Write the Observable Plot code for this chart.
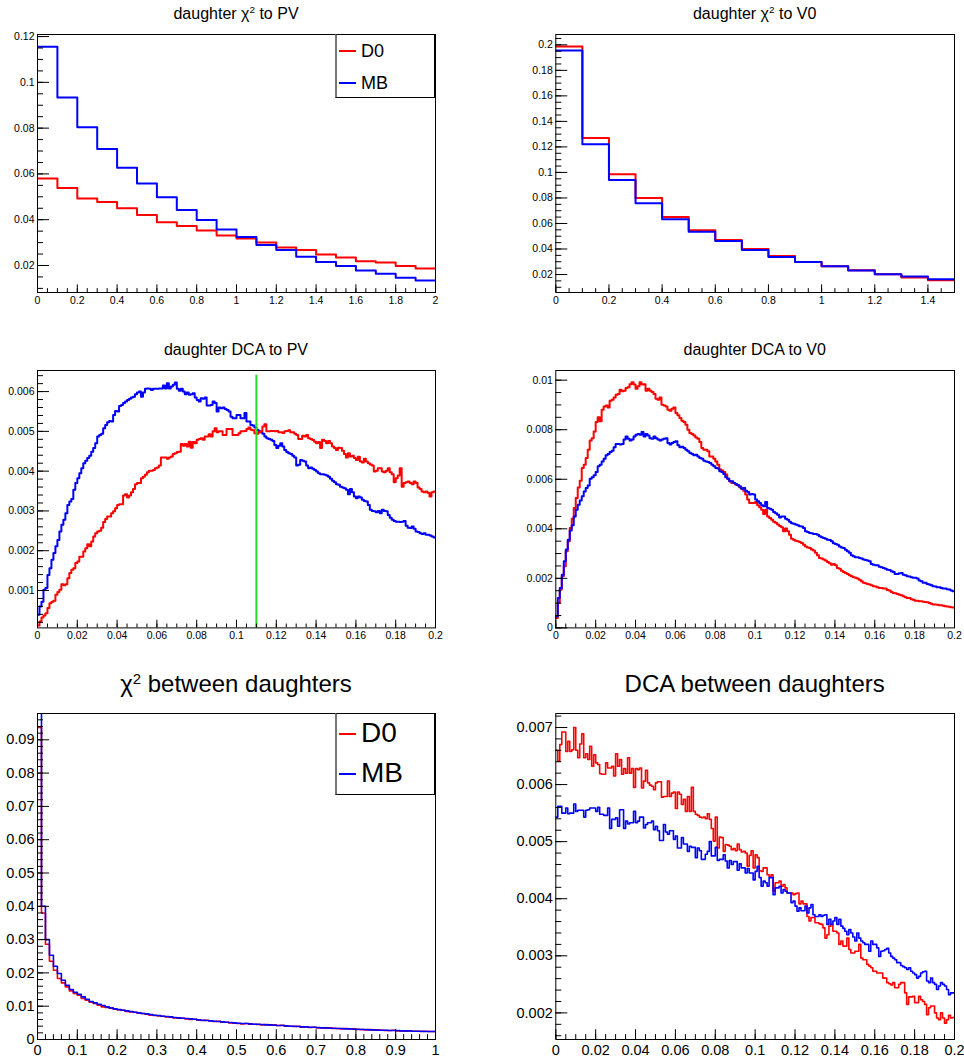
<!DOCTYPE html>
<html><head><meta charset="utf-8">
<script src="https://cdn.jsdelivr.net/npm/d3@7"></script>
<script src="https://cdn.jsdelivr.net/npm/@observablehq/plot@0.6"></script>
<style>
body{margin:0;background:#fff;}
#root{position:relative;width:964px;height:1061px;background:#fff;font-family:"Liberation Sans",Arial,Helvetica,sans-serif;color:#000;overflow:hidden}
.ttl{position:absolute;white-space:nowrap;line-height:1.117;transform:translateX(-50%)}
.ttl sup,.sup{font-size:0.62em;vertical-align:0;position:relative;top:-0.55em}
.leg{position:absolute;background:#fff;border:1px solid #000;border-left:2px solid #777;box-sizing:border-box}
.legtxt{position:absolute;white-space:nowrap;line-height:1.117}
.legline{position:absolute}
</style></head><body><div id="root"></div><script>
// ---------------- data ----------------
const series = ["D0", "MB"];
const colors = {D0: "#ff0000", MB: "#0000ff"};

// daughter chi2 to PV : 20 bins on [0,2]
const chi2PV_range = [0, 2];
const chi2PV_D0 = [0.0580,0.0539,0.0493,0.0477,0.0450,0.0420,0.0389,0.0373,0.0353,0.0331,0.0318,0.0300,0.0279,0.0268,0.0248,0.0235,0.0219,0.0213,0.0198,0.0187];
const chi2PV_MB = [0.1156,0.0934,0.0804,0.0709,0.0627,0.0558,0.0498,0.0442,0.0399,0.0357,0.0324,0.0290,0.0268,0.0238,0.0215,0.0198,0.0178,0.0164,0.0146,0.0134];

// daughter chi2 to V0 : 15 bins on [0,1.5]
const chi2V0_range = [0, 1.5];
const chi2V0_D0 = [0.1987,0.1269,0.0985,0.0800,0.0651,0.0547,0.0471,0.0400,0.0346,0.0299,0.0265,0.0234,0.0203,0.0176,0.0155];
const chi2V0_MB = [0.1956,0.1220,0.0941,0.0758,0.0633,0.0536,0.0463,0.0393,0.0338,0.0299,0.0265,0.0231,0.0203,0.0184,0.0163];

// daughter DCA to PV : 200 bins on [0,0.2]
const dcaPV_range = [0, 0.2];
const dcaPV_cut = 0.11, dcaPV_cutTop = 0.00641;
const dcaPV_D0 = [
0.00012,0.00022,0.00032,0.00037,0.00043,0.00056,0.00068,0.00072,0.00074,0.00089,
0.00096,0.00102,0.00116,0.00113,0.00116,0.00131,0.00144,0.00152,0.00156,0.00169,
0.00173,0.00185,0.00185,0.00198,0.00206,0.00216,0.00211,0.00223,0.00236,0.00244,
0.00248,0.00250,0.00258,0.00272,0.00280,0.00286,0.00286,0.00294,0.00299,0.00307,
0.00315,0.00317,0.00317,0.00339,0.00342,0.00334,0.00339,0.00347,0.00355,0.00367,
0.00370,0.00370,0.00382,0.00386,0.00391,0.00397,0.00401,0.00401,0.00403,0.00407,
0.00409,0.00414,0.00434,0.00434,0.00434,0.00431,0.00434,0.00437,0.00443,0.00445,
0.00448,0.00449,0.00468,0.00464,0.00468,0.00462,0.00474,0.00459,0.00473,0.00470,
0.00479,0.00481,0.00483,0.00479,0.00487,0.00487,0.00493,0.00487,0.00500,0.00508,
0.00498,0.00500,0.00500,0.00491,0.00491,0.00506,0.00506,0.00506,0.00491,0.00491,
0.00491,0.00495,0.00500,0.00500,0.00501,0.00506,0.00510,0.00504,0.00503,0.00495,
0.00494,0.00498,0.00500,0.00512,0.00518,0.00500,0.00500,0.00501,0.00501,0.00500,
0.00501,0.00498,0.00498,0.00496,0.00500,0.00501,0.00503,0.00498,0.00498,0.00494,
0.00491,0.00481,0.00481,0.00489,0.00487,0.00491,0.00483,0.00481,0.00478,0.00474,
0.00470,0.00473,0.00458,0.00479,0.00476,0.00470,0.00476,0.00470,0.00462,0.00458,
0.00453,0.00459,0.00458,0.00451,0.00443,0.00434,0.00445,0.00437,0.00439,0.00433,
0.00428,0.00436,0.00424,0.00422,0.00431,0.00424,0.00420,0.00417,0.00414,0.00399,
0.00401,0.00407,0.00407,0.00399,0.00397,0.00401,0.00407,0.00397,0.00392,0.00372,
0.00382,0.00389,0.00407,0.00361,0.00370,0.00372,0.00374,0.00370,0.00367,0.00374,
0.00370,0.00359,0.00355,0.00349,0.00347,0.00349,0.00345,0.00336,0.00347,0.00349];
const dcaPV_MB = [
0.00039,0.00060,0.00072,0.00102,0.00106,0.00139,0.00156,0.00177,0.00194,0.00211,
0.00227,0.00248,0.00265,0.00278,0.00294,0.00315,0.00324,0.00330,0.00353,0.00370,
0.00382,0.00395,0.00407,0.00420,0.00426,0.00433,0.00439,0.00449,0.00458,0.00470,
0.00487,0.00491,0.00494,0.00508,0.00516,0.00523,0.00526,0.00525,0.00541,0.00551,
0.00550,0.00564,0.00566,0.00571,0.00575,0.00579,0.00582,0.00585,0.00587,0.00593,
0.00598,0.00600,0.00587,0.00598,0.00607,0.00608,0.00607,0.00604,0.00607,0.00607,
0.00607,0.00608,0.00608,0.00615,0.00608,0.00621,0.00608,0.00613,0.00617,0.00623,
0.00607,0.00602,0.00607,0.00600,0.00593,0.00598,0.00592,0.00593,0.00596,0.00585,
0.00579,0.00575,0.00583,0.00582,0.00585,0.00565,0.00565,0.00566,0.00575,0.00571,
0.00550,0.00560,0.00558,0.00560,0.00556,0.00554,0.00550,0.00537,0.00533,0.00533,
0.00541,0.00541,0.00533,0.00533,0.00546,0.00525,0.00525,0.00516,0.00515,0.00510,
0.00504,0.00501,0.00498,0.00494,0.00487,0.00483,0.00481,0.00479,0.00476,0.00466,
0.00458,0.00464,0.00470,0.00462,0.00453,0.00448,0.00445,0.00443,0.00439,0.00434,
0.00414,0.00416,0.00428,0.00426,0.00424,0.00414,0.00407,0.00409,0.00406,0.00403,
0.00399,0.00395,0.00392,0.00392,0.00391,0.00389,0.00386,0.00381,0.00376,0.00372,
0.00367,0.00366,0.00361,0.00359,0.00357,0.00353,0.00342,0.00355,0.00347,0.00336,
0.00332,0.00336,0.00334,0.00328,0.00325,0.00324,0.00315,0.00303,0.00300,0.00299,
0.00297,0.00300,0.00294,0.00303,0.00300,0.00299,0.00290,0.00283,0.00278,0.00275,
0.00273,0.00273,0.00272,0.00273,0.00275,0.00263,0.00258,0.00257,0.00261,0.00255,
0.00248,0.00247,0.00244,0.00242,0.00244,0.00240,0.00240,0.00238,0.00236,0.00233];

// daughter DCA to V0 : 200 bins on [0,0.2]
const dcaV0_range = [0, 0.2];
const dcaV0_D0 = [
0.00040,0.00101,0.00155,0.00208,0.00249,0.00309,0.00350,0.00403,0.00441,0.00484,
0.00524,0.00567,0.00594,0.00645,0.00659,0.00686,0.00719,0.00756,0.00766,0.00793,
0.00831,0.00850,0.00834,0.00881,0.00894,0.00898,0.00890,0.00917,0.00921,0.00930,
0.00941,0.00944,0.00961,0.00955,0.00957,0.00968,0.00971,0.00984,0.00992,0.00982,
0.00965,0.00975,0.00992,0.00982,0.00984,0.00957,0.00965,0.00957,0.00952,0.00944,
0.00925,0.00921,0.00930,0.00901,0.00898,0.00894,0.00881,0.00877,0.00885,0.00890,
0.00867,0.00858,0.00847,0.00836,0.00831,0.00820,0.00800,0.00787,0.00783,0.00777,
0.00769,0.00764,0.00750,0.00726,0.00719,0.00719,0.00713,0.00692,0.00692,0.00683,
0.00672,0.00659,0.00639,0.00635,0.00629,0.00619,0.00602,0.00592,0.00585,0.00585,
0.00578,0.00576,0.00567,0.00562,0.00554,0.00538,0.00518,0.00504,0.00504,0.00504,
0.00508,0.00495,0.00487,0.00477,0.00460,0.00477,0.00450,0.00444,0.00437,0.00428,
0.00424,0.00417,0.00411,0.00406,0.00390,0.00401,0.00390,0.00376,0.00360,0.00356,
0.00352,0.00350,0.00347,0.00343,0.00336,0.00329,0.00325,0.00323,0.00316,0.00312,
0.00303,0.00293,0.00282,0.00280,0.00276,0.00272,0.00266,0.00261,0.00255,0.00258,
0.00253,0.00242,0.00239,0.00231,0.00226,0.00222,0.00218,0.00212,0.00208,0.00204,
0.00202,0.00199,0.00194,0.00188,0.00182,0.00180,0.00177,0.00175,0.00172,0.00168,
0.00167,0.00164,0.00161,0.00161,0.00159,0.00159,0.00153,0.00151,0.00145,0.00141,
0.00140,0.00137,0.00134,0.00132,0.00128,0.00124,0.00121,0.00121,0.00116,0.00114,
0.00110,0.00110,0.00108,0.00108,0.00106,0.00105,0.00104,0.00100,0.00097,0.00094,
0.00094,0.00093,0.00091,0.00091,0.00089,0.00087,0.00086,0.00085,0.00083,0.00082];
const dcaV0_MB = [
0.00047,0.00121,0.00161,0.00215,0.00269,0.00316,0.00356,0.00393,0.00414,0.00450,
0.00477,0.00497,0.00514,0.00531,0.00551,0.00565,0.00575,0.00602,0.00608,0.00616,
0.00629,0.00652,0.00659,0.00672,0.00683,0.00697,0.00702,0.00710,0.00715,0.00729,
0.00742,0.00742,0.00740,0.00742,0.00760,0.00773,0.00764,0.00756,0.00760,0.00773,
0.00780,0.00783,0.00780,0.00791,0.00773,0.00783,0.00777,0.00766,0.00764,0.00773,
0.00766,0.00760,0.00756,0.00760,0.00764,0.00766,0.00746,0.00740,0.00746,0.00750,
0.00753,0.00737,0.00729,0.00731,0.00726,0.00719,0.00713,0.00706,0.00702,0.00697,
0.00699,0.00692,0.00686,0.00683,0.00675,0.00672,0.00670,0.00666,0.00659,0.00652,
0.00645,0.00643,0.00632,0.00629,0.00621,0.00608,0.00602,0.00592,0.00592,0.00585,
0.00581,0.00576,0.00571,0.00562,0.00565,0.00554,0.00549,0.00538,0.00540,0.00538,
0.00518,0.00511,0.00504,0.00495,0.00491,0.00508,0.00484,0.00481,0.00477,0.00468,
0.00463,0.00457,0.00446,0.00450,0.00450,0.00441,0.00437,0.00428,0.00422,0.00420,
0.00417,0.00414,0.00410,0.00409,0.00403,0.00390,0.00387,0.00383,0.00382,0.00379,
0.00379,0.00376,0.00370,0.00366,0.00363,0.00360,0.00356,0.00355,0.00350,0.00342,
0.00339,0.00336,0.00329,0.00325,0.00323,0.00315,0.00309,0.00303,0.00293,0.00289,
0.00285,0.00285,0.00282,0.00280,0.00276,0.00274,0.00272,0.00269,0.00258,0.00255,
0.00253,0.00253,0.00247,0.00245,0.00242,0.00239,0.00235,0.00234,0.00229,0.00226,
0.00218,0.00218,0.00221,0.00222,0.00215,0.00212,0.00208,0.00207,0.00204,0.00202,
0.00202,0.00199,0.00191,0.00188,0.00182,0.00182,0.00177,0.00175,0.00172,0.00168,
0.00167,0.00164,0.00164,0.00161,0.00159,0.00159,0.00156,0.00155,0.00151,0.00148];

// chi2 between daughters : 100 bins on [0,1]
const chi2DD_range = [0, 1];
const chi2DD_D0 = [
0.0937,0.0380,0.0286,0.0235,0.0208,0.0183,0.0170,0.0158,0.0146,0.0138,
0.0133,0.0123,0.0118,0.0112,0.0108,0.0103,0.0098,0.0096,0.0094,0.0091,
0.0089,0.0088,0.0084,0.0083,0.0082,0.0079,0.0078,0.0076,0.0073,0.0072,
0.0071,0.0070,0.0068,0.0067,0.0065,0.0064,0.0064,0.0062,0.0060,0.0061,
0.0058,0.0057,0.0058,0.0056,0.0054,0.0055,0.0052,0.0052,0.0050,0.0049,
0.0048,0.0047,0.0048,0.0046,0.0046,0.0045,0.0044,0.0045,0.0043,0.0044,
0.0042,0.0043,0.0040,0.0040,0.0039,0.0040,0.0037,0.0038,0.0036,0.0037,
0.0035,0.0035,0.0034,0.0035,0.0033,0.0033,0.0032,0.0033,0.0031,0.0032,
0.0030,0.0030,0.0029,0.0030,0.0028,0.0029,0.0028,0.0027,0.0027,0.0028,
0.0026,0.0026,0.0025,0.0026,0.0025,0.0025,0.0024,0.0025,0.0024,0.0024];
const chi2DD_MB = [
0.1050,0.0400,0.0300,0.0253,0.0220,0.0198,0.0178,0.0163,0.0150,0.0142,
0.0136,0.0128,0.0121,0.0114,0.0110,0.0106,0.0102,0.0098,0.0095,0.0092,
0.0090,0.0088,0.0086,0.0084,0.0082,0.0080,0.0078,0.0077,0.0075,0.0073,
0.0072,0.0070,0.0069,0.0068,0.0066,0.0065,0.0064,0.0063,0.0062,0.0061,
0.0059,0.0058,0.0057,0.0056,0.0055,0.0054,0.0053,0.0052,0.0051,0.0050,
0.0049,0.0048,0.0048,0.0047,0.0046,0.0046,0.0045,0.0044,0.0044,0.0043,
0.0042,0.0042,0.0041,0.0040,0.0040,0.0039,0.0038,0.0038,0.0037,0.0037,
0.0036,0.0035,0.0035,0.0034,0.0034,0.0033,0.0033,0.0032,0.0032,0.0031,
0.0031,0.0030,0.0030,0.0029,0.0029,0.0028,0.0028,0.0028,0.0027,0.0027,
0.0027,0.0026,0.0026,0.0026,0.0025,0.0025,0.0025,0.0024,0.0024,0.0024];

// DCA between daughters : 200 bins on [0,0.2]
const dcaDD_range = [0, 0.2];
const dcaDD_D0 = [
0.00660,0.00641,0.00670,0.00692,0.00692,0.00658,0.00676,0.00658,0.00661,0.00700,
0.00660,0.00647,0.00671,0.00689,0.00647,0.00654,0.00644,0.00667,0.00632,0.00652,
0.00638,0.00635,0.00619,0.00618,0.00618,0.00638,0.00629,0.00629,0.00632,0.00615,
0.00654,0.00632,0.00644,0.00618,0.00628,0.00620,0.00647,0.00620,0.00628,0.00595,
0.00628,0.00626,0.00629,0.00594,0.00606,0.00625,0.00603,0.00599,0.00597,0.00591,
0.00603,0.00605,0.00605,0.00578,0.00579,0.00579,0.00606,0.00579,0.00585,0.00587,
0.00558,0.00587,0.00583,0.00565,0.00574,0.00553,0.00579,0.00553,0.00595,0.00553,
0.00548,0.00546,0.00543,0.00542,0.00543,0.00540,0.00549,0.00539,0.00523,0.00501,
0.00543,0.00489,0.00508,0.00507,0.00483,0.00495,0.00494,0.00492,0.00486,0.00488,
0.00484,0.00496,0.00486,0.00482,0.00483,0.00480,0.00457,0.00476,0.00484,0.00454,
0.00477,0.00472,0.00449,0.00448,0.00454,0.00454,0.00442,0.00439,0.00442,0.00413,
0.00428,0.00428,0.00431,0.00422,0.00425,0.00419,0.00410,0.00410,0.00410,0.00407,
0.00409,0.00410,0.00391,0.00396,0.00391,0.00391,0.00369,0.00361,0.00367,0.00367,
0.00358,0.00358,0.00356,0.00355,0.00349,0.00331,0.00337,0.00352,0.00355,0.00343,
0.00343,0.00340,0.00320,0.00326,0.00317,0.00317,0.00331,0.00311,0.00305,0.00305,
0.00308,0.00308,0.00320,0.00296,0.00293,0.00293,0.00285,0.00282,0.00279,0.00273,
0.00273,0.00270,0.00270,0.00270,0.00261,0.00261,0.00253,0.00251,0.00249,0.00253,
0.00244,0.00244,0.00250,0.00253,0.00253,0.00235,0.00215,0.00228,0.00228,0.00229,
0.00218,0.00218,0.00229,0.00223,0.00220,0.00215,0.00197,0.00209,0.00212,0.00212,
0.00200,0.00191,0.00188,0.00200,0.00191,0.00182,0.00188,0.00196,0.00191,0.00192];
const dcaDD_MB = [
0.00543,0.00562,0.00562,0.00550,0.00550,0.00559,0.00549,0.00550,0.00550,0.00566,
0.00553,0.00555,0.00555,0.00555,0.00543,0.00555,0.00556,0.00559,0.00559,0.00559,
0.00553,0.00560,0.00548,0.00548,0.00546,0.00546,0.00559,0.00523,0.00539,0.00539,
0.00542,0.00527,0.00556,0.00556,0.00523,0.00536,0.00531,0.00533,0.00533,0.00553,
0.00533,0.00536,0.00543,0.00543,0.00524,0.00530,0.00533,0.00533,0.00536,0.00521,
0.00527,0.00519,0.00502,0.00502,0.00530,0.00517,0.00513,0.00519,0.00519,0.00504,
0.00510,0.00489,0.00489,0.00507,0.00496,0.00496,0.00483,0.00492,0.00490,0.00490,
0.00472,0.00489,0.00484,0.00469,0.00469,0.00478,0.00483,0.00500,0.00475,0.00475,
0.00490,0.00467,0.00469,0.00469,0.00477,0.00466,0.00454,0.00467,0.00460,0.00465,
0.00465,0.00450,0.00461,0.00454,0.00454,0.00445,0.00453,0.00445,0.00445,0.00433,
0.00448,0.00457,0.00437,0.00422,0.00431,0.00428,0.00422,0.00437,0.00437,0.00407,
0.00419,0.00419,0.00422,0.00410,0.00416,0.00413,0.00410,0.00410,0.00393,0.00396,
0.00387,0.00378,0.00384,0.00379,0.00379,0.00387,0.00375,0.00384,0.00390,0.00372,
0.00369,0.00369,0.00372,0.00369,0.00371,0.00372,0.00355,0.00364,0.00355,0.00361,
0.00367,0.00355,0.00364,0.00352,0.00348,0.00343,0.00337,0.00346,0.00340,0.00333,
0.00326,0.00340,0.00331,0.00326,0.00323,0.00320,0.00320,0.00308,0.00326,0.00320,
0.00320,0.00314,0.00299,0.00308,0.00309,0.00311,0.00313,0.00305,0.00299,0.00296,
0.00293,0.00288,0.00288,0.00283,0.00281,0.00279,0.00276,0.00279,0.00273,0.00270,
0.00267,0.00261,0.00264,0.00270,0.00272,0.00273,0.00256,0.00253,0.00261,0.00253,
0.00250,0.00241,0.00247,0.00253,0.00250,0.00247,0.00241,0.00232,0.00235,0.00235];

// tick labels
const ticks_chi2PV_x = [0,0.2,0.4,0.6,0.8,1,1.2,1.4,1.6,1.8,2];
const ticks_chi2PV_y = [0.02,0.04,0.06,0.08,0.1,0.12];
const ticks_chi2V0_x = [0,0.2,0.4,0.6,0.8,1,1.2,1.4];
const ticks_chi2V0_y = [0.02,0.04,0.06,0.08,0.1,0.12,0.14,0.16,0.18,0.2];
const ticks_dca_x = [0,0.02,0.04,0.06,0.08,0.1,0.12,0.14,0.16,0.18,0.2];
const ticks_dcaPV_y = [0.001,0.002,0.003,0.004,0.005,0.006];
const ticks_dcaV0_y = [0,0.002,0.004,0.006,0.008,0.01];
const ticks_chi2DD_x = [0,0.1,0.2,0.3,0.4,0.5,0.6,0.7,0.8,0.9,1];
const ticks_chi2DD_y = [0,0.01,0.02,0.03,0.04,0.05,0.06,0.07,0.08,0.09];
const ticks_dcaDD_y = [0.002,0.003,0.004,0.005,0.006,0.007];

// ---------------- drawing ----------------
const root = document.getElementById("root");
const fmt = d => String(+(+d).toPrecision(6));
const FONT = "'Liberation Sans', Arial, Helvetica, sans-serif";

function steps(vals, range) {
  const w = (range[1] - range[0]) / vals.length;
  const d = vals.map((v, i) => ({x: range[0] + i * w, y: v}));
  d.push({x: range[1], y: vals[vals.length - 1]});
  return d;
}
function minorTicks(domain, step) {
  const out = [];
  const k0 = Math.ceil(domain[0] / step - 1e-9), k1 = Math.floor(domain[1] / step + 1e-9);
  for (let k = k0; k <= k1; k++) out.push(+(k * step).toPrecision(10));
  return out;
}

function drawPanel(p) {
  const padT = 12, padB = 30, cellW = 482;
  const [L, R, T, B] = p.frame;
  const xMin = minorTicks(p.xDomain, p.xMinor);
  const yMin = minorTicks(p.yDomain, p.yMinor);
  const yMaj = p.yTicks.filter(v => v >= p.yDomain[0] - 1e-12 && v <= p.yDomain[1] + 1e-12);
  const marks = [];
  for (const s of p.lines) {
    marks.push(Plot.line(steps(s.values, p.range), {x: "x", y: "y", curve: "step-after", stroke: s.color, strokeWidth: p.lw, clip: true}));
  }
  if (p.extra) marks.push(...p.extra);
  marks.push(
    Plot.axisX({ticks: xMin, tickSize: -p.xTick / 2, tickFormat: () => "", label: null}),
    Plot.axisX({ticks: p.xTicks, tickSize: -p.xTick, tickFormat: () => "", label: null}),
    Plot.axisX({ticks: p.xTicks, tickSize: 0, tickPadding: p.xPad, tickFormat: fmt, label: null, fontSize: p.fs}),
    Plot.axisY({ticks: yMin, tickSize: -6, tickFormat: () => "", label: null}),
    Plot.axisY({ticks: yMaj, tickSize: -12, tickFormat: () => "", label: null}),
    Plot.axisY({ticks: yMaj, tickSize: 0, tickPadding: 3, tickFormat: fmt, label: null, fontSize: p.fs}),
    Plot.frame({stroke: "#000", strokeWidth: 1})
  );
  const svg = Plot.plot({
    width: cellW, height: (B - T) + padT + padB,
    marginLeft: L - p.cellX, marginRight: p.cellX + cellW - R, marginTop: padT, marginBottom: padB,
    x: {domain: p.xDomain, axis: null, label: null},
    y: {domain: p.yDomain, axis: null, label: null},
    style: {fontFamily: FONT, background: "transparent", overflow: "visible", color: "#000"},
    marks
  });
  svg.style.position = "absolute";
  svg.style.left = p.cellX + "px";
  svg.style.top = (T - padT) + "px";
  root.appendChild(svg);

  const t = document.createElement("div");
  t.className = "ttl";
  t.style.fontSize = p.titleFs + "px";
  t.style.left = ((L + R) / 2) + "px";
  t.style.top = (p.titleBase - 0.905 * p.titleFs) + "px";
  t.innerHTML = p.title;
  root.appendChild(t);
}

function legend(box, rows, fs, lw) {
  const b = document.createElement("div");
  b.className = "leg";
  b.style.left = box[0] + "px"; b.style.top = box[1] + "px";
  b.style.width = (box[2] - box[0]) + "px"; b.style.height = (box[3] - box[1]) + "px";
  root.appendChild(b);
  for (const r of rows) {
    const l = document.createElement("div");
    l.className = "legline";
    l.style.left = "339px"; l.style.width = "17px";
    l.style.top = Math.round(r.lineY - lw / 2) + "px"; l.style.height = lw + "px";
    l.style.background = colors[r.name];
    root.appendChild(l);
    const t = document.createElement("div");
    t.className = "legtxt";
    t.style.left = "361px"; t.style.fontSize = fs + "px";
    t.style.top = (r.base - 0.905 * fs) + "px";
    t.textContent = r.name;
    root.appendChild(t);
  }
}

const topRow = {xTick: 7.7, xPad: 4, fs: 10.5, lw: 2, titleFs: 16};
const botRow = {xTick: 9.8, xPad: 5, fs: 14.5, lw: 1.6, titleFs: 24};

drawPanel({...topRow, cellX: 0, frame: [37, 435, 34, 292], titleBase: 19,
  title: "daughter χ<sup>2</sup> to PV", range: chi2PV_range,
  xDomain: [0, 2], yDomain: [0.0082, 0.1209], xTicks: ticks_chi2PV_x, xMinor: 0.05, yTicks: ticks_chi2PV_y, yMinor: 0.005,
  lines: [{values: chi2PV_D0, color: colors.D0}, {values: chi2PV_MB, color: colors.MB}]});

drawPanel({...topRow, cellX: 482, frame: [555.3, 954, 34, 292], titleBase: 19,
  title: "daughter χ<sup>2</sup> to V0", range: chi2V0_range,
  xDomain: [0, 1.5], yDomain: [0.0059, 0.2081], xTicks: ticks_chi2V0_x, xMinor: 0.05, yTicks: ticks_chi2V0_y, yMinor: 0.005,
  lines: [{values: chi2V0_D0, color: colors.D0}, {values: chi2V0_MB, color: colors.MB}]});

drawPanel({...topRow, cellX: 0, frame: [37, 435, 370.3, 627.7], titleBase: 355,
  title: "daughter DCA to PV", range: dcaPV_range,
  xDomain: [0, 0.2], yDomain: [0.00006, 0.00653], xTicks: ticks_dca_x, xMinor: 0.005, yTicks: ticks_dcaPV_y, yMinor: 0.0002,
  lines: [{values: dcaPV_MB, color: colors.MB}, {values: dcaPV_D0, color: colors.D0}],
  extra: [Plot.ruleX([dcaPV_cut], {y1: 0.00006, y2: dcaPV_cutTop, stroke: "#22dd22", strokeWidth: 2})]});

drawPanel({...topRow, cellX: 482, frame: [555.3, 954, 370.3, 627.7], titleBase: 355,
  title: "daughter DCA to V0", range: dcaV0_range,
  xDomain: [0, 0.2], yDomain: [0, 0.01039], xTicks: ticks_dca_x, xMinor: 0.005, yTicks: ticks_dcaV0_y, yMinor: 0.0005,
  lines: [{values: dcaV0_D0, color: colors.D0}, {values: dcaV0_MB, color: colors.MB}]});

drawPanel({...botRow, cellX: 0, frame: [37, 435, 713.3, 1039.3], titleBase: 693,
  title: "χ<sup>2</sup> between daughters", range: chi2DD_range,
  xDomain: [0, 1], yDomain: [0, 0.0979], xTicks: ticks_chi2DD_x, xMinor: 0.02, yTicks: ticks_chi2DD_y, yMinor: 0.002,
  lines: [{values: chi2DD_D0, color: colors.D0}, {values: chi2DD_MB, color: colors.MB}]});

drawPanel({...botRow, cellX: 482, frame: [555.3, 954, 713.3, 1039.3], titleBase: 693,
  title: "DCA between daughters", range: dcaDD_range,
  xDomain: [0, 0.2], yDomain: [0.001534, 0.007245], xTicks: ticks_dca_x, xMinor: 0.005, yTicks: ticks_dcaDD_y, yMinor: 0.0002,
  lines: [{values: dcaDD_D0, color: colors.D0}, {values: dcaDD_MB, color: colors.MB}]});

legend([335, 34, 435, 98.3], [{name: "D0", lineY: 51, base: 57.3}, {name: "MB", lineY: 83, base: 89.3}], 18, 2);
legend([335, 713.3, 435, 795], [{name: "D0", lineY: 734, base: 742.7}, {name: "MB", lineY: 774, base: 782.7}], 28, 2);
</script></body></html>
